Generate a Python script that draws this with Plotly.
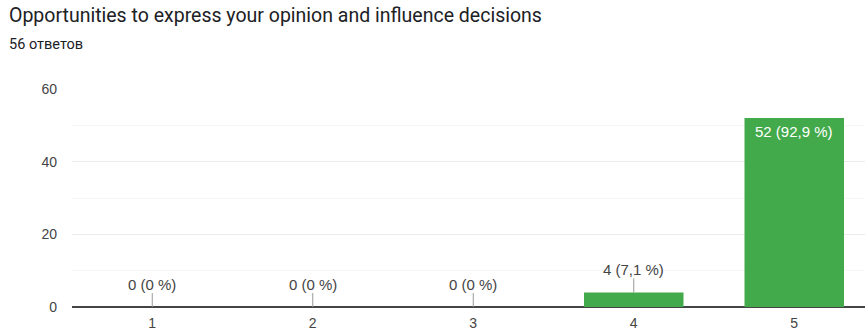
import plotly.graph_objects as go

categories = [1, 2, 3, 4, 5]
counts = [0, 0, 0, 4, 52]
total_responses = 56
title_text = "Opportunities to express your opinion and influence decisions"
subtitle_text = "56 ответов"
y_ticks = [0, 20, 40, 60]

W, H = 865, 330
L, R, T, B = 72, 0, 89, 23
plot_w = W - L - R
plot_h = H - T - B

BAR_COLOR = "#43AA4B"
TEXT_COLOR = "#444444"

def fmt_label(v):
    pct = round(v / total_responses * 100, 1)
    if pct == int(pct):
        s = str(int(pct))
    else:
        s = f"{pct:.1f}".replace(".", ",")
    return f"{v} ({s} %)"

fig = go.Figure()
fig.add_trace(go.Bar(
    x=categories, y=counts, width=0.62,
    marker=dict(color=BAR_COLOR, line=dict(width=0)),
    hoverinfo="skip",
))

annotations = []
for c, v in zip(categories, counts):
    if v > 10:
        annotations.append(dict(
            x=c, y=v, xref="x", yref="y", text=fmt_label(v),
            showarrow=False, yanchor="top", yshift=-3,
            font=dict(family="Arial", size=15, color="white"),
        ))
    else:
        annotations.append(dict(
            x=c, y=v, xref="x", yref="y", text=fmt_label(v),
            showarrow=True, ax=0, ay=-23, arrowhead=0, arrowwidth=1,
            arrowcolor="#999999", standoff=0, startstandoff=0,
            font=dict(family="Arial", size=15, color=TEXT_COLOR),
            borderpad=0,
        ))

annotations.append(dict(
    text=title_text, xref="paper", yref="paper",
    x=(7 - L) / plot_w, y=(H - B - 16) / plot_h,
    xanchor="left", yanchor="middle", showarrow=False,
    font=dict(family="Roboto", size=19.5, color="#202124"),
))
annotations.append(dict(
    text=subtitle_text, xref="paper", yref="paper",
    x=(7 - L) / plot_w, y=(H - B - 44) / plot_h,
    xanchor="left", yanchor="middle", showarrow=False,
    font=dict(family="Roboto", size=14.5, color="#202124"),
))

fig.update_layout(
    width=W, height=H,
    margin=dict(l=L, r=R, t=T, b=B, pad=0),
    plot_bgcolor="white", paper_bgcolor="white",
    showlegend=False,
    annotations=annotations,
    xaxis=dict(
        range=[0.5, 0.5 + plot_w / 160.5], tickvals=categories,
        ticktext=[str(c) for c in categories],
        showgrid=False, zeroline=False, showline=False, ticks="",
        ticklabelstandoff=6,
        tickfont=dict(family="Arial", size=14, color=TEXT_COLOR),
        fixedrange=True,
    ),
    yaxis=dict(
        range=[0, 60], tickvals=y_ticks,
        showgrid=True, gridcolor="#ebebeb", gridwidth=1,
        minor=dict(dtick=10, showgrid=True, gridcolor="#f6f6f6", gridwidth=1),
        zeroline=True, zerolinecolor="#444444", zerolinewidth=1.5,
        showline=False, ticks="", ticklabelstandoff=14,
        tickfont=dict(family="Arial", size=14, color=TEXT_COLOR),
        fixedrange=True,
    ),
)

fig.write_html("out.html", config={"displayModeBar": False})
